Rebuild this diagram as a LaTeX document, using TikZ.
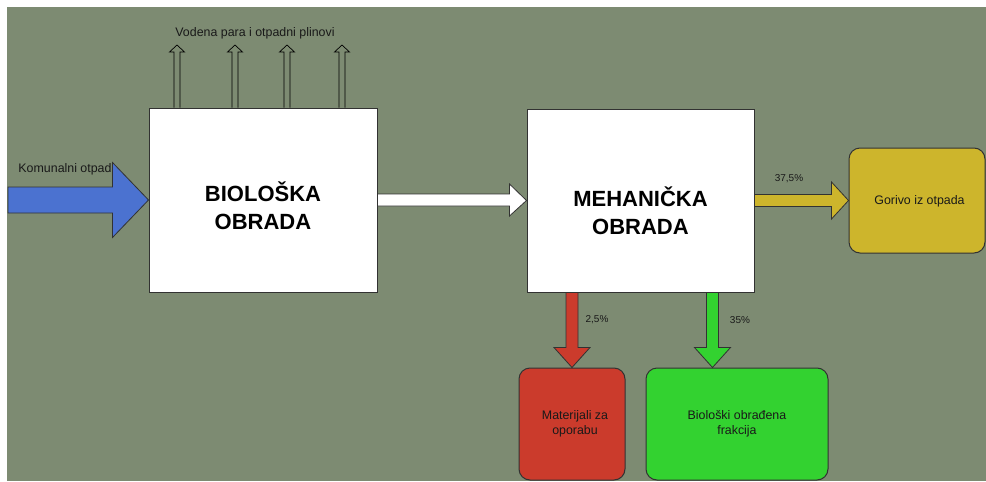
\documentclass[tikz,border=0pt]{standalone}
\usepackage{fontspec}
\setmainfont{Liberation Sans}
\usetikzlibrary{calc}
\definecolor{bg}{RGB}{125,139,114}
\definecolor{blk}{RGB}{75,114,208}
\definecolor{redb}{RGB}{203,59,44}
\definecolor{greenb}{RGB}{51,210,48}
\definecolor{yellowb}{RGB}{205,181,44}
\definecolor{edge}{RGB}{50,50,50}
\tikzset{
  mainbox/.style={draw=edge, line width=1pt, fill=white, minimum width=#1, inner sep=0pt},
  outbox/.style={draw=edge, line width=1pt, rounded corners=11pt, inner sep=0pt},
  bigtext/.style={font=\fontsize{22}{28}\selectfont\bfseries, align=center, text=black, inner sep=0pt},
  smalltext/.style={font=\fontsize{12.4}{15}\selectfont, align=center, text=black!90, inner sep=0pt},
  pcttext/.style={font=\fontsize{10}{12}\selectfont, text=black!90, inner sep=0pt},
  blockarrow/.style={draw=edge, line width=0.8pt, line join=miter},
  steamarrow/.style={draw=black, line width=0.7pt, fill=bg},
}
\begin{document}
\begin{tikzpicture}[x=1pt,y=-1pt]
\useasboundingbox (0,0) rectangle (986,482);
\fill[bg] (7,7) rectangle (986,481);

% main boxes
\node[mainbox=228pt, minimum height=184pt] (bio) at (263,200) {};
\node[mainbox=227pt, minimum height=183pt] (meh) at (640.5,200.5) {};
\node[bigtext] (biotxt) at ($(bio.center)+(0,6)$) {BIOLOŠKA\\OBRADA};
\node[bigtext] (mehtxt) at ($(meh.center)+(0,10)$) {MEHANIČKA\\OBRADA};

% output boxes
\node[outbox, fill=yellowb, minimum width=136pt, minimum height=105pt] (gor) at (917,200.5) {};
\node[smalltext] (gortxt) at (919.5,201) {Gorivo iz otpada};
\node[outbox, fill=redb, minimum width=106pt, minimum height=112pt] (mat) at (572,424) {};
\node[smalltext] (mattxt) at (575,424) {Materijali za\\oporabu};
\node[outbox, fill=greenb, minimum width=182pt, minimum height=112pt] (bof) at (737,424) {};
\node[smalltext] (boftxt) at (737,424) {Biološki obrađena\\frakcija};

% input arrow
\coordinate (kin) at (8,200);
\draw[blockarrow, fill=blk]
  ($(kin)+(0,-13)$) -- ($(bio.west)+(-36,-13)$) -- ($(bio.west)+(-36,-37.5)$)
  -- (bio.west) -- ($(bio.west)+(-36,37.5)$) -- ($(bio.west)+(-36,13)$)
  -- ($(kin)+(0,13)$) -- cycle;
\node[smalltext] (kom) at (65,169) {Komunalni otpad};

% bio -> meh
\draw[blockarrow, fill=white]
  ($(bio.east)+(0,-6)$) -- ($(meh.west)+(-17,-6.5)$) -- ($(meh.west)+(-17,-16.5)$)
  -- (meh.west) -- ($(meh.west)+(-17,15.5)$) -- ($(meh.west)+(-17,5.5)$)
  -- ($(bio.east)+(0,6)$) -- cycle;

% meh -> gorivo
\draw[blockarrow, fill=yellowb]
  ($(meh.east)+(0,-6)$) -- ($(gor.west)+(-17,-6)$) -- ($(gor.west)+(-17,-18.5)$)
  -- (gor.west) -- ($(gor.west)+(-17,18.5)$) -- ($(gor.west)+(-17,6)$)
  -- ($(meh.east)+(0,6)$) -- cycle;
\node[pcttext] (p1) at (789,179) {37,5\%};

% meh -> materijali
\coordinate (rt) at (mat.north);
\draw[blockarrow, fill=redb]
  ($(rt |- meh.south)+(-6,0)$) -- ($(rt)+(-6,-20)$) -- ($(rt)+(-18,-20)$)
  -- (rt) -- ($(rt)+(18,-20)$) -- ($(rt)+(6,-20)$)
  -- ($(rt |- meh.south)+(6,0)$) -- cycle;
\node[pcttext] (p2) at (597,320) {2,5\%};

% meh -> bio frakcija
\coordinate (gt) at ($(bof.north west)+(67,0)$);
\draw[blockarrow, fill=greenb]
  ($(gt |- meh.south)+(-6,0)$) -- ($(gt)+(-6,-20)$) -- ($(gt)+(-18,-20)$)
  -- (gt) -- ($(gt)+(18,-20)$) -- ($(gt)+(6,-20)$)
  -- ($(gt |- meh.south)+(6,0)$) -- cycle;
\node[pcttext] (p3) at (740,320) {35\%};

% steam arrows
\foreach \xx [count=\i] in {177,235,287,342}{
  \coordinate (s\i) at (\xx,45);
  \draw[steamarrow]
    ($(s\i |- bio.north)+(-3,0)$) -- ($(s\i)+(-3,7)$) -- ($(s\i)+(-7.5,7)$)
    -- (s\i) -- ($(s\i)+(7.5,7)$) -- ($(s\i)+(3,7)$)
    -- ($(s\i |- bio.north)+(3,0)$);
}
\node[smalltext] (vod) at (255,33) {Vodena para i otpadni plinovi};
\end{tikzpicture}
\end{document}
